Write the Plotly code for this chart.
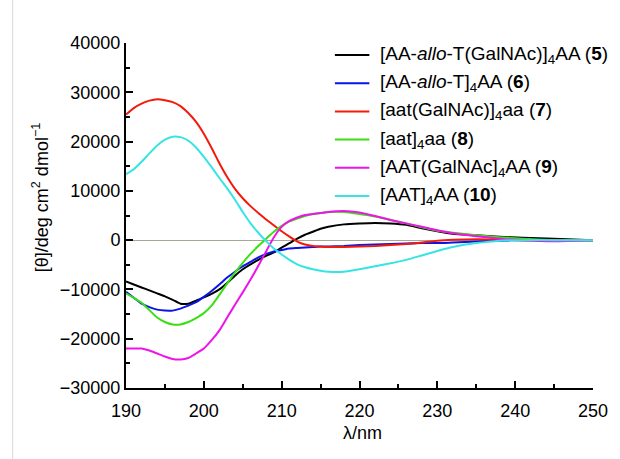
import plotly.graph_objects as go

# Wavelength grid (nm)
wavelength = [190, 191, 192, 193, 194, 195, 196, 197, 198, 199, 200, 201, 202, 203, 204,
              205, 206, 207, 208, 209, 210, 211, 212, 213, 214, 215, 216, 218, 220, 222,
              224, 226, 228, 230, 232, 235, 238, 241, 245, 250]

# Mean residue ellipticity [theta] (deg cm2 dmol-1)
theta_5 = [-8400, -9000, -9600, -10200, -10800, -11400, -12100, -12900, -12900, -12300,
           -11600, -10900, -10000, -8700, -7200, -5900, -4900, -4000, -3200, -2500,
           -1500, -600, 300, 1100, 1700, 2300, 2700, 3200, 3400, 3500,
           3400, 3100, 2400, 1800, 1300, 1000, 700, 500, 300, 0]
theta_6 = [-10500, -11700, -12900, -13600, -14100, -14300, -14300, -13900, -13300, -12600,
           -11500, -10300, -9000, -7600, -6400, -5300, -4400, -3500, -2800, -2300,
           -2000, -1700, -1600, -1500, -1400, -1300, -1300, -1200, -1000, -900,
           -800, -700, -600, -600, -500, -300, -100, 0, 0, 0]
theta_7 = [25500, 26800, 27700, 28300, 28600, 28400, 28000, 27200, 25800, 24000,
           21600, 18700, 15600, 12800, 10400, 8500, 6900, 5500, 4200, 3000,
           1800, 700, -300, -900, -1200, -1300, -1400, -1400, -1300, -1200,
           -1000, -800, -500, -100, 100, 200, 100, 0, 0, 0]
theta_8 = [-10800, -11700, -12700, -14200, -15700, -16600, -17100, -17100, -16600, -15800,
           -14800, -13300, -11100, -8800, -6600, -4600, -2800, -1200, 300, 1700,
           2900, 3800, 4400, 4900, 5300, 5500, 5700, 5700, 5300, 4800,
           4100, 3400, 2600, 1900, 1500, 1000, 600, 300, 0, 0]
theta_9 = [-22000, -22000, -22000, -22400, -23000, -23600, -24100, -24200, -23900, -23000,
           -22000, -20300, -18300, -15700, -13100, -10600, -8000, -5200, -2300, 600,
           2700, 3900, 4600, 5100, 5300, 5500, 5700, 5900, 5600, 4900,
           4100, 3400, 2700, 2000, 1400, 800, 300, 0, -200, 0]
theta_10 = [13400, 14400, 15900, 17600, 19200, 20400, 21000, 20900, 20200, 18800,
            16900, 14800, 12600, 10500, 8200, 5700, 3400, 1500, -200, -1700,
            -2900, -4000, -4900, -5500, -5900, -6200, -6400, -6400, -5900, -5300,
            -4700, -4000, -3100, -2200, -1400, -600, -100, 0, 0, 0]

series_names = [
    "[AA-<i>allo</i>-T(GalNAc)]<sub>4</sub>AA (<b>5</b>)",
    "[AA-<i>allo</i>-T]<sub>4</sub>AA (<b>6</b>)",
    "[aat(GalNAc)]<sub>4</sub>aa (<b>7</b>)",
    "[aat]<sub>4</sub>aa (<b>8</b>)",
    "[AAT(GalNAc]<sub>4</sub>AA (<b>9</b>)",
    "[AAT]<sub>4</sub>AA (<b>10</b>)",
]
series_values = [theta_5, theta_6, theta_7, theta_8, theta_9, theta_10]
series_colors = ["#000000", "#0a14e6", "#f21a0a", "#3ade14", "#ee14e8", "#36e4e4"]

FONT = "Liberation Sans, Arial, sans-serif"

# Key box geometry (paper fractions): sample line span, text start, row positions
KEY_X0, KEY_X1, KEY_TEXT_X = 0.4473, 0.5211, 0.5401
KEY_ROW_TOP, KEY_ROW_STEP = 0.9652, 0.0817

fig = go.Figure()
shapes = []
annotations = []
for i, (name, vals, col) in enumerate(zip(series_names, series_values, series_colors)):
    fig.add_trace(go.Scatter(
        x=wavelength, y=vals, mode="lines", name=name, showlegend=False,
        line=dict(color=col, width=2, shape="spline", smoothing=0.5),
    ))
    ky = KEY_ROW_TOP - i * KEY_ROW_STEP
    shapes.append(dict(type="line", xref="paper", yref="paper",
                       x0=KEY_X0, x1=KEY_X1, y0=ky, y1=ky,
                       line=dict(color=col, width=2)))
    annotations.append(dict(text=name, xref="paper", yref="paper",
                            x=KEY_TEXT_X, y=ky, xanchor="left", yanchor="middle",
                            showarrow=False, font=dict(size=19)))

annotations += [
    dict(text="[θ]/deg cm<sup>2</sup> dmol<sup>−1</sup>", textangle=-90,
         xref="paper", yref="paper", x=-0.1814, y=0.551,
         xanchor="center", yanchor="middle", showarrow=False,
         font=dict(size=18)),
    dict(text="λ/nm", xref="paper", yref="paper", x=0.506, y=-0.130,
         xanchor="center", yanchor="middle", showarrow=False,
         font=dict(size=18)),
]
shapes.append(dict(type="line", xref="paper", yref="paper", x0=-0.2426, x1=-0.2426,
                   y0=-0.21, y1=1.13, line=dict(color="#d9d9d9", width=1)))

fig.update_layout(
    width=620, height=459,
    margin=dict(l=126, r=20, t=43, b=71),
    paper_bgcolor="white", plot_bgcolor="white",
    font=dict(family=FONT, size=18, color="black"),
    showlegend=False,
    xaxis=dict(
        range=[190, 250], dtick=10, tick0=190,
        ticks="inside", ticklen=7, tickwidth=1.5, tickcolor="black",
        minor=dict(dtick=5, ticks="inside", ticklen=4, tickcolor="black", tickwidth=1.5),
        showline=True, linecolor="black", linewidth=2,
        showgrid=False, zeroline=False,
        tickfont=dict(size=18), ticklabelstandoff=5,
    ),
    yaxis=dict(
        range=[-30000, 40000], dtick=10000, tick0=0, tickformat="d",
        ticks="inside", ticklen=7, tickwidth=1.5, tickcolor="black",
        minor=dict(dtick=5000, ticks="inside", ticklen=4, tickcolor="black", tickwidth=1.5),
        showline=True, linecolor="black", linewidth=2,
        showgrid=False,
        zeroline=True, zerolinecolor="#aaa596", zerolinewidth=1,
        tickfont=dict(size=18),
    ),
    annotations=annotations,
    shapes=shapes,
)

fig.write_html("out.html")
